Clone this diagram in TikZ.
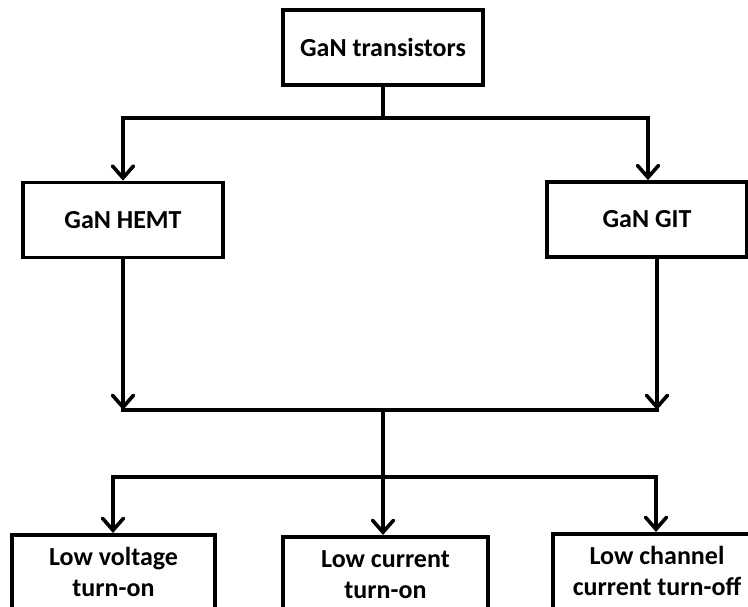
\documentclass[tikz,border=0pt]{standalone}
\usepackage{fontspec}
\setmainfont{Carlito}
\usetikzlibrary{arrows.meta}
\begin{document}
\begin{tikzpicture}[x=1pt,y=-1pt,
  box/.style={draw,line width=3.6pt,minimum height=75pt,inner sep=2pt,
    font=\fontsize{26}{31}\selectfont\bfseries,align=center},
  lowbox/.style={box,anchor=north,minimum height=75pt},
  conn/.style={line width=3.6pt},
  arr/.style={conn,-{Straight Barb[length=12pt,width=21pt,line cap=round]}}]
\useasboundingbox (0,0) rectangle (748,607);
\clip (0,0) rectangle (748,607);
\node[box,minimum width=200pt] (top) at (383,47.5) {GaN transistors};
\node[box,minimum width=200pt] (hemt) at (123,220) {GaN HEMT};
\node[box,minimum width=200pt] (git) at (647,219.5) {GaN GIT};
\node[lowbox,minimum width=203pt] (lv) at (113.5,533) {Low voltage\\turn-on};
\node[lowbox,minimum width=205pt] (lc) at (385.5,535) {Low current\\turn-on};
\node[lowbox,minimum width=208pt] (lch) at (657,532) {Low channel\\current turn-off};
\coordinate (j1) at (383,118);
\coordinate (hl) at (123,118);
\coordinate (hr) at (648,118);
\coordinate (ml) at (123,410);
\coordinate (mr) at (657,410);
\coordinate (mc) at (383,410);
\coordinate (bl) at (113,477);
\coordinate (br) at (656,477);
\draw[conn] (top.south) -- (j1);
\draw[conn,line cap=rect] (hl) -- (hr);
\draw[arr] (hl) -- (hl |- hemt.north);
\draw[arr] (hr) -- (hr |- git.north);
\draw[arr] (hemt.south) -- (ml);
\draw[arr] (mr |- git.south) -- (mr);
\draw[conn,line cap=rect] (ml) -- (mr);
\draw[arr] (mc) -- (mc |- lc.north);
\draw[conn,line cap=rect] (bl) -- (br);
\draw[arr] (bl) -- (bl |- lv.north);
\draw[arr] (br) -- (br |- lch.north);
\end{tikzpicture}
\end{document}
